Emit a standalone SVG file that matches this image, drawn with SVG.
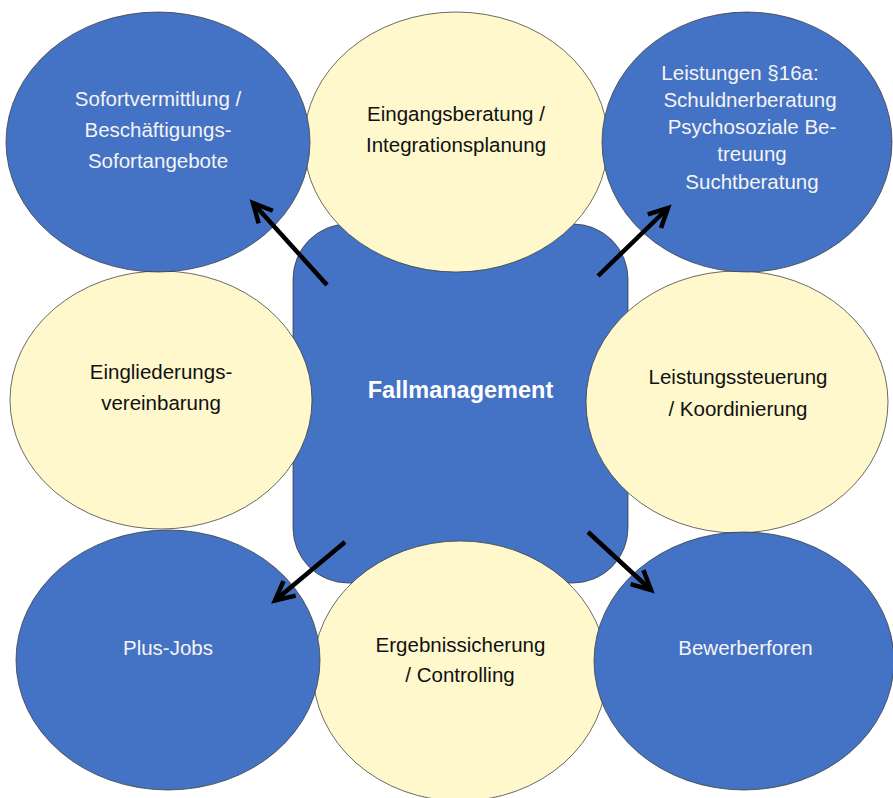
<svg xmlns="http://www.w3.org/2000/svg" width="893" height="798" viewBox="0 0 893 798">
<style>
.blue{fill:#4472C4;stroke:#3a3a3a;stroke-width:0.75}
.yel{fill:#FEF8CC;stroke:#3a3a3a;stroke-width:0.75}
.t{font-family:"Liberation Sans",Arial,sans-serif;font-size:20.5px;text-anchor:middle}
.w{fill:#F4F4F4}
.k{fill:#111111}
.b{font-weight:bold;font-size:23.5px;fill:#FFFFFF}
.arr{stroke:#000;stroke-width:4.5;fill:none;marker-end:url(#ah)}
</style>
<defs>
<marker id="ah" markerUnits="userSpaceOnUse" markerWidth="40" markerHeight="40" viewBox="-30 -20 40 40" refX="0" refY="0" orient="auto" overflow="visible">
<path d="M-19,-9.5 L0,0 L-19,9.5" fill="none" stroke="#000" stroke-width="4.5"/>
</marker>
</defs>
<rect width="893" height="798" fill="#FFFFFF"/>
<g id="fallmanagement">
<rect class="blue" x="293" y="224" width="335" height="359" rx="55" ry="55"/>
<text class="t b" x="460.5" y="398">Fallmanagement</text>
</g>
<g id="eingangsberatung">
<ellipse class="yel" cx="456" cy="142" rx="152" ry="130"/>
<text class="t k" x="456" y="121">Eingangsberatung /</text>
<text class="t k" x="456" y="152">Integrationsplanung</text>
</g>
<g id="eingliederung">
<ellipse class="yel" cx="161" cy="400" rx="151" ry="129"/>
<text class="t k" x="161" y="379">Eingliederungs-</text>
<text class="t k" x="161" y="410">vereinbarung</text>
</g>
<g id="leistungssteuerung">
<ellipse class="yel" cx="737" cy="402" rx="151" ry="131"/>
<text class="t k" x="738" y="384">Leistungssteuerung</text>
<text class="t k" x="738" y="416">/ Koordinierung</text>
</g>
<g id="ergebnissicherung">
<ellipse class="yel" cx="460" cy="671" rx="147" ry="130"/>
<text class="t k" x="460.5" y="652">Ergebnissicherung</text>
<text class="t k" x="460" y="682">/ Controlling</text>
</g>
<g id="sofortvermittlung">
<ellipse class="blue" cx="158" cy="142" rx="152" ry="130"/>
<text class="t w" x="158" y="106">Sofortvermittlung /</text>
<text class="t w" x="158" y="137">Beschäftigungs-</text>
<text class="t w" x="158" y="168">Sofortangebote</text>
</g>
<g id="leistungen16a">
<ellipse class="blue" cx="747" cy="142" rx="145" ry="130"/>
<text class="t w" x="740" y="80">Leistungen §16a:</text>
<text class="t w" x="750" y="107">Schuldnerberatung</text>
<text class="t w" x="752" y="134">Psychosoziale Be-</text>
<text class="t w" x="752" y="161">treuung</text>
<text class="t w" x="752" y="189">Suchtberatung</text>
</g>
<g id="plusjobs">
<ellipse class="blue" cx="168" cy="660" rx="152" ry="130"/>
<text class="t w" x="168" y="655">Plus-Jobs</text>
</g>
<g id="bewerberforen">
<ellipse class="blue" cx="744" cy="661" rx="150" ry="129"/>
<text class="t w" x="745.5" y="655">Bewerberforen</text>
</g>
<g id="connectors">
<line class="arr" x1="327" y1="285" x2="253" y2="203"/>
<line class="arr" x1="598" y1="276" x2="668" y2="208"/>
<line class="arr" x1="345" y1="542" x2="275" y2="600.5"/>
<line class="arr" x1="588" y1="532" x2="651" y2="590"/>
</g>
</svg>
